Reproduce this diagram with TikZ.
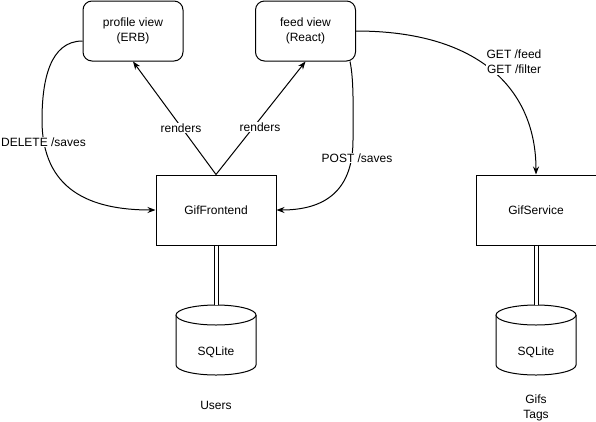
\documentclass[tikz,border=0pt]{standalone}
\usepackage{fontspec}
\setmainfont{Liberation Sans}
\usetikzlibrary{arrows.meta}
\begin{document}
\begin{tikzpicture}[x=1pt,y=-1pt,
  font=\fontsize{12}{15}\selectfont, line width=1pt,
  view/.style={draw, rounded corners=9pt, minimum width=100pt, minimum height=60pt, align=center, inner sep=0pt},
  svc/.style={draw, minimum width=120pt, minimum height=70pt, inner sep=0pt},
  dbbox/.style={minimum width=80pt, minimum height=70pt, inner sep=0pt},
  lbl/.style={fill=white, inner sep=1pt, align=center},
  plain/.style={inner sep=0pt, align=center},
  arr/.style={-{Stealth[length=8pt,width=6pt]}},
  link/.style={double, double distance=3pt, line width=1pt},
  ]
\useasboundingbox (0,0) rectangle (596,421);

% boxes
\node[view] (profile) at (133,31) {profile view\\(ERB)};
\node[view] (feed) at (305.5,31) {feed view\\(React)};
\node[svc] (front) at (216,210) {GifFrontend};
\node[svc] (service) at (536,210) {GifService};

% cylinders
\foreach \cx/\nm in {216/db1, 536/db2}{
  \fill[white] (\cx-40,315) rectangle (\cx+40,365);
  \draw[fill=white] (\cx-40,315) -- (\cx-40,365)
     arc[start angle=180, end angle=360, x radius=40pt, y radius=10pt] -- (\cx+40,315);
  \draw[fill=white] (\cx,315) ellipse[x radius=40pt, y radius=10pt];
  \node[dbbox] (\nm) at (\cx,340) {};
}
\node[plain] (db1t) at (216,352) {SQLite};
\node[plain] (db2t) at (536,352) {SQLite};

\node[plain] (users) at (216,405) {Users};
\node[plain] (gifs) at (536,408) {Gifs\\Tags};

% links
\draw[link] (front.south) -- (db1.north);
\draw[link] (service.south) -- (db2.north);

% renders
\draw[arr] (front.north) -- (profile.south);
\draw[arr] (front.north) -- (feed.south);
\node[lbl] (r1) at (181,128) {renders};
\node[lbl] (r2) at (260,127) {renders};

% DELETE
\draw[arr] ([yshift=-10pt]profile.west) .. controls (50,41) and (42,80) .. (42,120)
   .. controls (42,190) and (90,210) .. (front.west);
\node[lbl] (del) at (43.5,142) {DELETE /saves};

% POST
\draw[arr] ([xshift=-6pt]feed.south east) .. controls (354,80) and (353,110) .. (353,140)
   .. controls (353,195) and (320,210) .. (front.east);
\node[lbl] (post) at (357,158) {POST /saves};

% GET
\draw[arr] (feed.east) .. controls (480,31) and (536,90) .. (service.north);
\node[lbl] (get) at (514,62) {GET /feed\\GET /filter};
\end{tikzpicture}
\end{document}
